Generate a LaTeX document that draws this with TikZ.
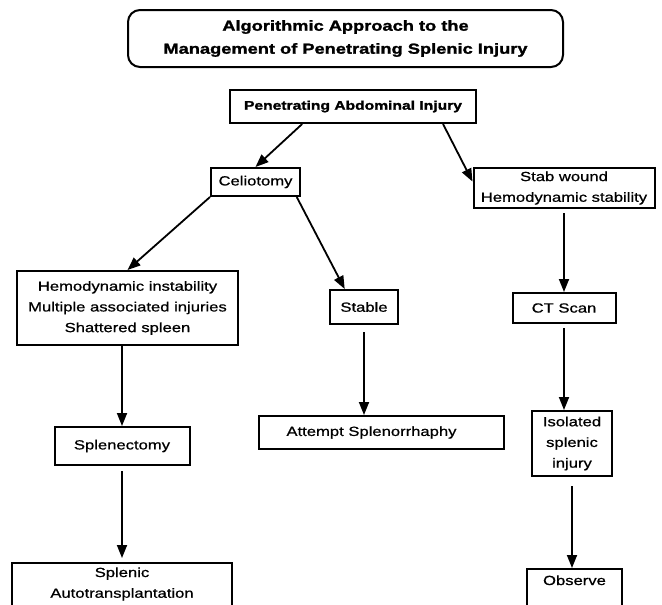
\documentclass[tikz,border=0pt]{standalone}
\usepackage{fontspec}
\setmainfont{Liberation Sans}[FakeStretch=1.25,
  UprightFeatures={FakeBold=0.8},BoldFeatures={FakeBold=1.6}]
\usetikzlibrary{arrows.meta}

\begin{document}
\begin{tikzpicture}[x=1pt,y=-1pt,
  box/.style={draw,line width=2pt,inner sep=2pt,align=center,
    font=\fontsize{13.3}{20.7}\selectfont},
  arr/.style={line width=1.8pt,-{Triangle[length=13pt,width=10pt]}}]
\useasboundingbox (0,0) rectangle (662,605);
% top row
\node[box,rounded corners=12pt,minimum width=435,minimum height=57,
  font=\fontsize{14.6}{23}\selectfont\bfseries] (title) at (345.5,38.5)
  {Algorithmic Approach to the\\Management of Penetrating Splenic Injury};
\node[box,minimum width=246,minimum height=33,
  font=\fontsize{12.5}{15}\selectfont\bfseries] (pai) at (353,106.5) {Penetrating Abdominal Injury};
\node[box,minimum width=89,minimum height=28] (celio) at (255.5,182) {Celiotomy};
\node[box,minimum width=181,minimum height=40] (stab) at (564,188) {Stab wound\\Hemodynamic stability};
% middle
\node[box,minimum width=221,minimum height=74] (hemo) at (127.5,308)
  {Hemodynamic instability\\Multiple associated injuries\\Shattered spleen};
\node[box,minimum width=68,minimum height=34] (stable) at (364,307) {Stable};
\node[box,minimum width=103,minimum height=30] (ct) at (564,308) {CT Scan};
\node[box,minimum width=135,minimum height=38] (splen) at (122,446) {Splenectomy};
\node[box,minimum width=245,minimum height=33] (repair) at (381.5,432.5) {Attempt Splenorrhaphy\hspace*{20pt}};
\node[box,minimum width=80,minimum height=65] (isol) at (572,443.5) {Isolated\\splenic\\injury};
% bottom, runs off the page
\node[box,anchor=north,minimum width=220,inner ysep=4.4pt,text depth=30pt] (auto) at (122,562)
  {Splenic\\Autotransplantation};
\node[box,anchor=north,minimum width=95,inner ysep=6.4pt,text depth=30pt] (obs) at (574.5,568) {Observe};

\draw[arr] (pai.199) -- (celio.north);
\draw[arr] (pai.-11) -- (stab.176);
\draw[arr] (celio.south west) -- (hemo.north);
\draw[arr] (celio.-20) -- (stable.137);
\draw[arr,shorten <=4pt] (stab.south) -- (ct.north);
\draw[arr] (hemo.south -| splen) -- (splen);
\draw[arr,shorten <=7pt] (stable.south) -- (stable.south |- repair.north);
\draw[arr,shorten <=4pt] (ct.south) -- (ct.south |- isol.north);
\draw[arr,shorten <=5pt,shorten >=4pt] (splen.south) -- (splen.south |- auto.north);
\draw[arr,shorten <=9pt] (isol.south) -- (isol.south |- obs.north);
\end{tikzpicture}
\end{document}
